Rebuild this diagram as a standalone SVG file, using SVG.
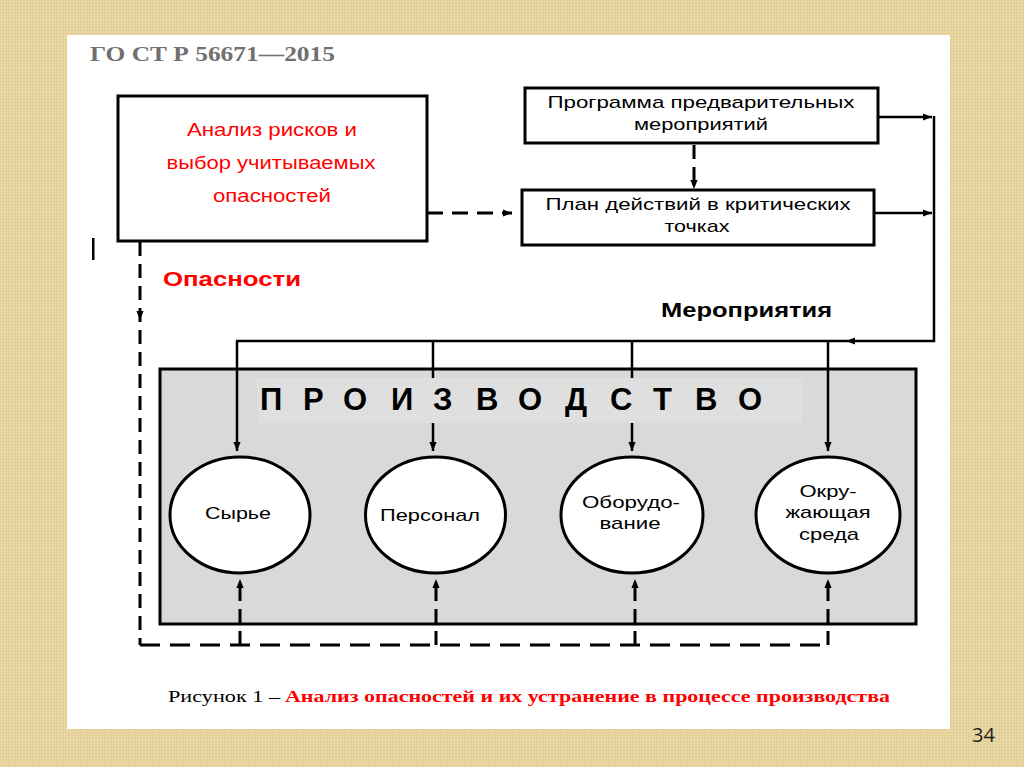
<svg xmlns="http://www.w3.org/2000/svg" width="1024" height="767" viewBox="0 0 1024 767">
<defs>
<pattern id="linen" width="6" height="6" patternUnits="userSpaceOnUse">
<rect width="6" height="6" fill="#e7d39d"/>
<path d="M0,0.5 H6 M0,3.5 H6" stroke="#d9c285" stroke-width="0.8" opacity="0.5"/>
<path d="M1.5,0 V6 M4.5,0 V6" stroke="#f0e2b8" stroke-width="0.8" opacity="0.6"/>
</pattern>
<marker id="ah" viewBox="0 0 10 8" refX="10" refY="4" markerWidth="9" markerHeight="7.5" markerUnits="userSpaceOnUse" orient="auto">
<path d="M0,0 L10,4 L0,8 z" fill="#000"/>
</marker>
<style>
.box{fill:#fff;stroke:#000;stroke-width:3}
.ell{fill:#fff;stroke:#000;stroke-width:3}
.ln{fill:none;stroke:#000;stroke-width:2.5}
.dl{fill:none;stroke:#000;stroke-width:3;stroke-dasharray:16 9}
.dv{fill:none;stroke:#000;stroke-width:3;stroke-dasharray:14 8}
.dh{fill:none;stroke:#000;stroke-width:3;stroke-dasharray:20 10}
.sans{font-family:"Liberation Sans",Arial,sans-serif}
.red{fill:#ff0000}
.t17{font-size:17px;fill:#000}
</style>
</defs>

<rect width="1024" height="767" fill="url(#linen)"/>
<rect x="67" y="35" width="883" height="694" fill="#fff"/>

<text x="90" y="61" font-family="'Liberation Serif','Times New Roman',serif" font-weight="bold" font-size="21" fill="#707070" textLength="245" lengthAdjust="spacingAndGlyphs">ГО СТ Р 56671—2015</text>

<rect x="92" y="238" width="2.5" height="22" fill="#000"/>

<g id="analysis">
<rect class="box" x="118" y="96" width="309" height="145"/>
<g class="sans red" font-size="17.5" text-anchor="middle">
<text x="272" y="136" textLength="170" lengthAdjust="spacingAndGlyphs">Анализ рисков и</text>
<text x="271" y="169" textLength="209" lengthAdjust="spacingAndGlyphs">выбор учитываемых</text>
<text x="272" y="202" textLength="118" lengthAdjust="spacingAndGlyphs">опасностей</text>
</g>
</g>

<g id="program">
<rect class="box" x="525" y="88" width="353" height="55"/>
<g class="sans t17" text-anchor="middle">
<text x="701" y="108" textLength="307" lengthAdjust="spacingAndGlyphs">Программа предварительных</text>
<text x="701" y="130" textLength="134" lengthAdjust="spacingAndGlyphs">мероприятий</text>
</g>
</g>

<g id="plan">
<rect class="box" x="522" y="190" width="352" height="55"/>
<g class="sans t17" text-anchor="middle">
<text x="698" y="210" textLength="305" lengthAdjust="spacingAndGlyphs">План действий в критических</text>
<text x="697" y="232" textLength="65" lengthAdjust="spacingAndGlyphs">точках</text>
</g>
</g>

<g id="label-hazards">
<text x="163" y="286" class="sans red" font-size="20" font-weight="bold" textLength="138" lengthAdjust="spacingAndGlyphs">Опасности</text>
</g>

<g id="label-measures">
<text x="661" y="317" class="sans" font-size="21" font-weight="bold" fill="#000" textLength="171" lengthAdjust="spacingAndGlyphs">Мероприятия</text>
</g>

<g id="production">
<rect x="160" y="369" width="756" height="255" fill="#d9d9d9" stroke="#000" stroke-width="3"/>
</g>

<g id="connectors">
<path class="dl" d="M427,213 H512" marker-end="url(#ah)"/>
<path class="dv" d="M694,145 V189" marker-end="url(#ah)"/>
<path class="ln" d="M878,117 H932" marker-end="url(#ah)"/>
<path class="ln" d="M874,213 H932" marker-end="url(#ah)"/>
<path class="ln" d="M934,116 V341 H236"/>
<path d="M862,341 H846" stroke="none" fill="none" marker-end="url(#ah)"/>
<path class="ln" d="M237,341 V451" marker-end="url(#ah)"/>
<path class="ln" d="M433,341 V451" marker-end="url(#ah)"/>
<path class="ln" d="M632,341 V451" marker-end="url(#ah)"/>
<path class="ln" d="M828,341 V451" marker-end="url(#ah)"/>
<path class="dv" d="M140,242 V645"/>
<path class="dh" d="M140,645 H828"/>
<path d="M140,305 V320" stroke="none" fill="none" marker-end="url(#ah)"/>
<path class="dv" d="M240,645 V579" marker-end="url(#ah)"/>
<path class="dv" d="M436,645 V579" marker-end="url(#ah)"/>
<path class="dv" d="M635,645 V579" marker-end="url(#ah)"/>
<path class="dv" d="M828,645 V579" marker-end="url(#ah)"/>
</g>

<g id="production-title">
<rect x="257" y="378" width="546" height="45" fill="#dfdfdf"/>
<text class="sans" font-size="31" font-weight="bold" fill="#000" y="410" x="260 303 343 391 433 476 518 565 610 653 695 738">ПРОИЗВОДСТВО</text>
</g>

<g id="raw">
<ellipse class="ell" cx="240" cy="515" rx="70" ry="58"/>
<text class="sans t17" x="238" y="519" text-anchor="middle" textLength="66" lengthAdjust="spacingAndGlyphs">Сырье</text>
</g>

<g id="staff">
<ellipse class="ell" cx="435.5" cy="515" rx="70" ry="58"/>
<text class="sans t17" x="430" y="521" text-anchor="middle" textLength="100" lengthAdjust="spacingAndGlyphs">Персонал</text>
</g>

<g id="equipment">
<ellipse class="ell" cx="632" cy="515" rx="71" ry="58"/>
<g class="sans t17" text-anchor="middle">
<text x="631" y="508" textLength="98" lengthAdjust="spacingAndGlyphs">Оборудо-</text>
<text x="630" y="529" textLength="61" lengthAdjust="spacingAndGlyphs">вание</text>
</g>
</g>

<g id="environment">
<ellipse class="ell" cx="828" cy="515" rx="72" ry="58"/>
<g class="sans t17" text-anchor="middle">
<text x="828" y="497" textLength="57" lengthAdjust="spacingAndGlyphs">Окру-</text>
<text x="828" y="518" textLength="85" lengthAdjust="spacingAndGlyphs">жающая</text>
<text x="829" y="540" textLength="60" lengthAdjust="spacingAndGlyphs">среда</text>
</g>
</g>

<g id="caption" font-family="'Liberation Serif','Times New Roman',serif" font-size="17.5">
<text x="168" y="702" fill="#000" textLength="112" lengthAdjust="spacingAndGlyphs">Рисунок 1 –</text>
<text x="285" y="702" fill="#ff0000" font-weight="bold" textLength="605" lengthAdjust="spacingAndGlyphs">Анализ опасностей и их устранение в процессе производства</text>
</g>

<text x="972" y="742" font-family="'Open Sans','Liberation Sans',sans-serif" font-size="20" fill="#222">34</text>
</svg>
